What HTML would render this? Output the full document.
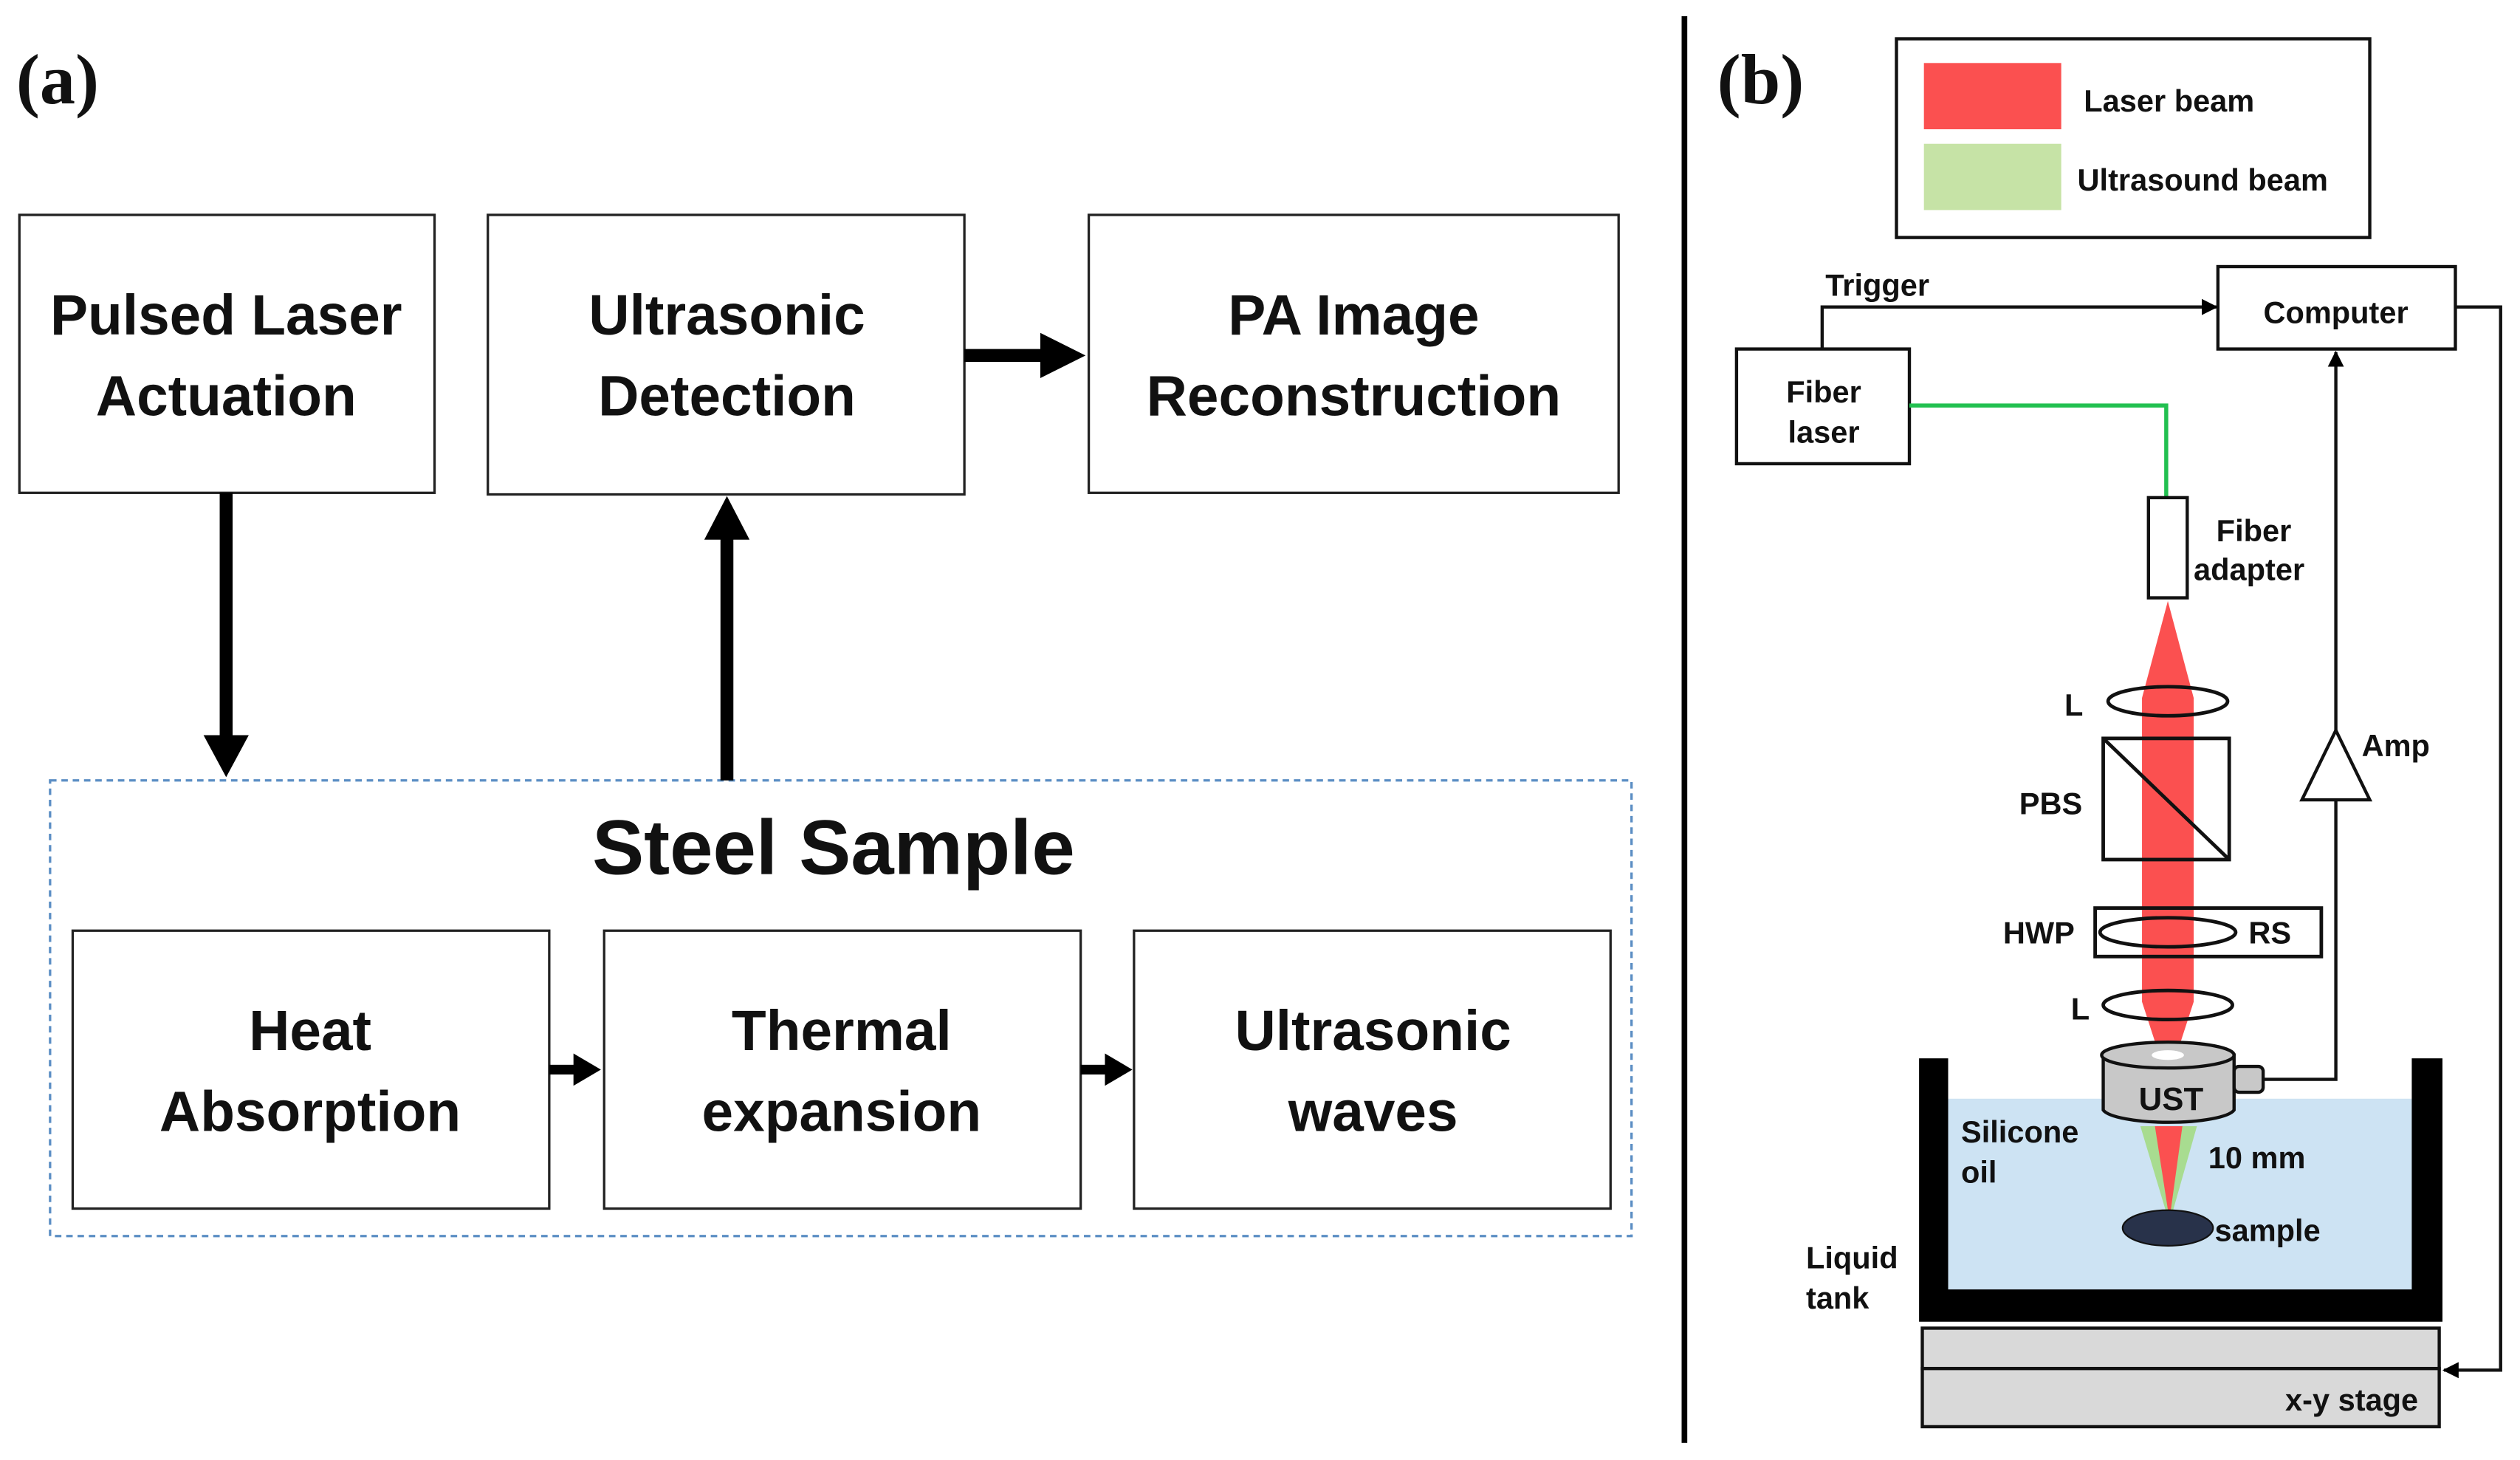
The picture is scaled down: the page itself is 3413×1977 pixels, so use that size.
<!DOCTYPE html>
<html><head><meta charset="utf-8"><style>
html,body{margin:0;padding:0;background:#fff;}
svg{display:block}
.t{font-family:"Liberation Sans","DejaVu Sans",sans-serif;font-weight:bold;fill:#111}
</style></head><body>
<svg width="3413" height="1977" viewBox="0 0 1560 903.6" preserveAspectRatio="none" xmlns="http://www.w3.org/2000/svg">
<defs>
<marker id="ah" markerWidth="10" markerHeight="10" refX="9" refY="5" orient="auto" markerUnits="userSpaceOnUse"><path d="M0,0 L10,5 L0,10 z" fill="#000"/></marker>
</defs>
<rect width="1560" height="904" fill="#fff"/>
<text x="10" y="64" font-family="Liberation Serif" font-weight="bold" font-size="44" fill="#111">(a)</text>
<g fill="#fff" stroke="#222" stroke-width="1.5">
<rect x="12" y="133" width="257" height="172"/>
<rect x="302" y="133" width="295" height="173"/>
<rect x="674" y="133" width="328" height="172"/>
<rect x="45" y="576" width="295" height="172"/>
<rect x="374" y="576" width="295" height="172"/>
<rect x="702" y="576" width="295" height="172"/>
</g>
<rect x="31" y="483" width="979" height="282" fill="none" stroke="#5b8ec4" stroke-width="1.5" stroke-dasharray="4,3"/>
<g class="t" font-size="35" text-anchor="middle">
<text x="140" y="207">Pulsed Laser</text><text x="140" y="257">Actuation</text>
<text x="450" y="207">Ultrasonic</text><text x="450" y="257">Detection</text>
<text x="838" y="207">PA Image</text><text x="838" y="257">Reconstruction</text>
<text x="192" y="650">Heat</text><text x="192" y="700">Absorption</text>
<text x="521" y="650">Thermal</text><text x="521" y="700">expansion</text>
<text x="850" y="650">Ultrasonic</text><text x="850" y="700">waves</text>
<text x="516" y="541" font-size="48">Steel Sample</text>
</g>
<rect x="136" y="305" width="8" height="150" fill="#000"/>
<path d="M126,455 L154,455 L140,481 z" fill="#000"/>
<rect x="446" y="333" width="8" height="150" fill="#000"/>
<path d="M436,334 L464,334 L450,307 z" fill="#000"/>
<rect x="597" y="216" width="48" height="8" fill="#000"/>
<path d="M644,206 L672,220 L644,234 z" fill="#000"/>
<rect x="340" y="659" width="16" height="6" fill="#000"/>
<path d="M355,652 L372,662 L355,672 z" fill="#000"/>
<rect x="669" y="659" width="16" height="6" fill="#000"/>
<path d="M684,652 L701,662 L684,672 z" fill="#000"/>
<rect x="1041" y="10" width="3.5" height="883" fill="#000"/>
<text x="1063" y="64" font-family="Liberation Serif" font-weight="bold" font-size="44" fill="#111">(b)</text>
<rect x="1174" y="24" width="293" height="123" fill="#fff" stroke="#111" stroke-width="2"/>
<rect x="1191" y="39" width="85" height="41" fill="#fb5050"/>
<rect x="1191" y="89" width="85" height="41" fill="#c6e3a6"/>
<rect x="1373" y="165" width="147" height="51" fill="#fff" stroke="#111" stroke-width="2"/>
<rect x="1075" y="216" width="107" height="71" fill="#fff" stroke="#111" stroke-width="2"/>
<path d="M1128,216 V190 H1372" fill="none" stroke="#111" stroke-width="2" marker-end="url(#ah)"/>
<path d="M1182,251 H1341 V308" fill="none" stroke="#22c050" stroke-width="2.5"/>
<rect x="1330" y="308" width="24" height="62" fill="#fff" stroke="#111" stroke-width="2"/>
<rect x="1206" y="680" width="287" height="118" fill="#cde3f3"/>
<path d="M1188,655 H1206 V798 H1493 V655 H1512 V818 H1188 z" fill="#000"/>
<path d="M1342,372 L1358,432 L1358,620 L1345,660 L1339,660 L1326,620 L1326,432 z" fill="#fb5050"/>
<path d="M1325,697 L1360,697 L1343,757 z" fill="#a8dc90"/>
<path d="M1334,697 L1351,697 L1343,755 z" fill="#fb5050"/>
<ellipse cx="1342" cy="760" rx="28" ry="11" fill="#28324a" stroke="#111"/>
<g fill="none" stroke="#111" stroke-width="2.2">
<ellipse cx="1342" cy="434" rx="37" ry="9"/>
<rect x="1302" y="457" width="78" height="75"/>
<line x1="1302" y1="457" x2="1380" y2="532"/>
<rect x="1297" y="562" width="140" height="30"/>
<ellipse cx="1342" cy="577" rx="42" ry="9"/>
<ellipse cx="1342" cy="622" rx="40" ry="9"/>
</g>
<path d="M1302,653 V687 A41,9 0 0 0 1383,687 V653 z" fill="#c8c8c8" stroke="#111" stroke-width="2"/>
<ellipse cx="1342" cy="653" rx="41" ry="8" fill="#c8c8c8" stroke="#111" stroke-width="2"/>
<ellipse cx="1342" cy="653" rx="10" ry="3" fill="#fff"/>
<rect x="1383" y="660" width="18" height="16" rx="3" fill="#c8c8c8" stroke="#111" stroke-width="2"/>
<path d="M1401,668 H1446 V495" fill="none" stroke="#111" stroke-width="2"/>
<path d="M1446,452 L1467,495 L1425,495 z" fill="#fff" stroke="#111" stroke-width="2"/>
<path d="M1446,452 V218" fill="none" stroke="#111" stroke-width="2" marker-end="url(#ah)"/>
<path d="M1520,190 H1548 V848 H1513" fill="none" stroke="#111" stroke-width="2" marker-end="url(#ah)"/>
<rect x="1190" y="822" width="320" height="25" fill="#d9d9d9" stroke="#111" stroke-width="2"/>
<rect x="1190" y="847" width="320" height="36" fill="#d9d9d9" stroke="#111" stroke-width="2"/>
<g class="t" font-size="19">
<text x="1290" y="69">Laser beam</text>
<text x="1286" y="118">Ultrasound beam</text>
<text x="1130" y="183">Trigger</text>
<text x="1446" y="200" text-anchor="middle">Computer</text>
<text x="1129" y="249" text-anchor="middle">Fiber</text>
<text x="1129" y="274" text-anchor="middle">laser</text>
<text x="1372" y="335">Fiber</text><text x="1358" y="359">adapter</text>
<text x="1278" y="443">L</text>
<text x="1250" y="504">PBS</text>
<text x="1240" y="584">HWP</text>
<text x="1392" y="584">RS</text>
<text x="1282" y="631">L</text>
<text x="1462" y="468">Amp</text>
<text x="1214" y="707">Silicone</text><text x="1214" y="732">oil</text>
<text x="1367" y="723">10 mm</text>
<text x="1371" y="768">sample</text>
<text x="1118" y="785">Liquid</text><text x="1118" y="810">tank</text>
<text x="1497" y="873" text-anchor="end">x-y stage</text>
<text x="1344" y="687" font-size="20" text-anchor="middle">UST</text>
</g>
</svg>
</body></html>
